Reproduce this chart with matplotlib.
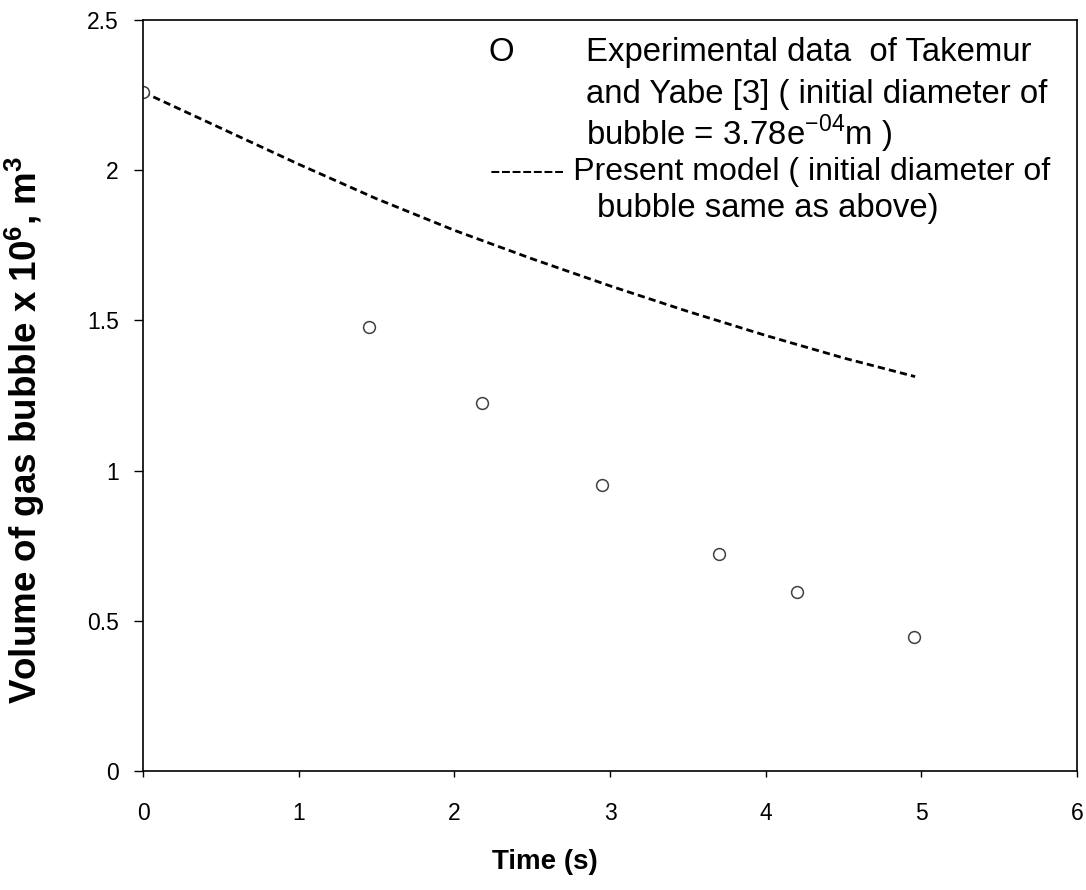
import matplotlib
matplotlib.use("Agg")
import matplotlib.pyplot as plt

plt.rcParams['font.family'] = ['Liberation Sans', 'DejaVu Sans']
plt.rcParams['mathtext.fontset'] = 'custom'
plt.rcParams['mathtext.rm'] = 'Liberation Sans'
plt.rcParams['mathtext.bf'] = 'Liberation Sans:bold'

# experimental data (Takemura and Yabe)
exp_time = [0.0, 1.45, 2.18, 2.95, 3.70, 4.20, 4.95]
exp_volume = [2.26, 1.478, 1.225, 0.952, 0.722, 0.596, 0.446]

# present model curve
model_time = [0.0, 0.5, 1.0, 1.5, 2.0, 2.5, 3.0, 3.5, 4.0, 4.5, 4.96]
model_volume = [2.26, 2.14, 2.02, 1.905, 1.80, 1.705, 1.615, 1.53, 1.45, 1.375, 1.313]

x_ticks = [0, 1, 2, 3, 4, 5, 6]
y_ticks = [0, 0.5, 1, 1.5, 2, 2.5]
y_ticklabels = ["0", "0.5", "1", "1.5", "2", "2.5"]

fig = plt.figure(figsize=(10.86, 8.90), dpi=100)
ax = fig.add_axes([0.1317, 0.1337, 0.86, 0.8438])

ax.plot(model_time, model_volume, color='black', linestyle=(0, (2.6, 1.5)), linewidth=2)
ax.plot(exp_time, exp_volume, linestyle='none', marker='o', markersize=8.5,
        markerfacecolor='white', markeredgecolor='#404040', markeredgewidth=1.1)

ax.set_xlim(0, 6)
ax.set_ylim(0, 2.5)
ax.set_xticks(x_ticks)
ax.set_xticklabels([str(t) for t in x_ticks])
ax.set_yticks(y_ticks)
ax.set_yticklabels(y_ticklabels)
ax.tick_params(axis='y', direction='out', length=6.5, width=1, labelsize=16.5, pad=11)
ax.tick_params(axis='x', direction='out', length=4.5, width=1, labelsize=16.5, pad=18)
for s in ax.spines.values():
    s.set_linewidth(1.2)

ax.set_xlabel("Time (s)", fontsize=20, fontweight='bold')
ax.xaxis.set_label_coords(0.43, -0.104)
ax.set_ylabel(r"Volume of gas bubble x 10$^\mathbf{6}$, m$^\mathbf{3}$",
              fontsize=26.5, fontweight='bold')
ax.yaxis.set_label_coords(-0.103, 0.454)

# text legend
fs = 23.7
tx = 0.474
ax.text(0.370, 0.957, "O", transform=ax.transAxes, fontsize=fs, va='center')
ax.text(tx, 0.957, "Experimental data  of Takemur", transform=ax.transAxes, fontsize=fs, va='center')
ax.text(tx, 0.901, "and Yabe [3] ( initial diameter of", transform=ax.transAxes, fontsize=fs, va='center')
ax.text(tx, 0.848, r"bubble = 3.78e$^{\mathregular{-04}}$m )", transform=ax.transAxes, fontsize=fs, va='center')
ax.text(0.372, 0.797, "------- Present model ( initial diameter of", transform=ax.transAxes, fontsize=23, va='center')
ax.text(0.486, 0.749, "bubble same as above)", transform=ax.transAxes, fontsize=fs, va='center')

fig.savefig("out.png", dpi=100)
